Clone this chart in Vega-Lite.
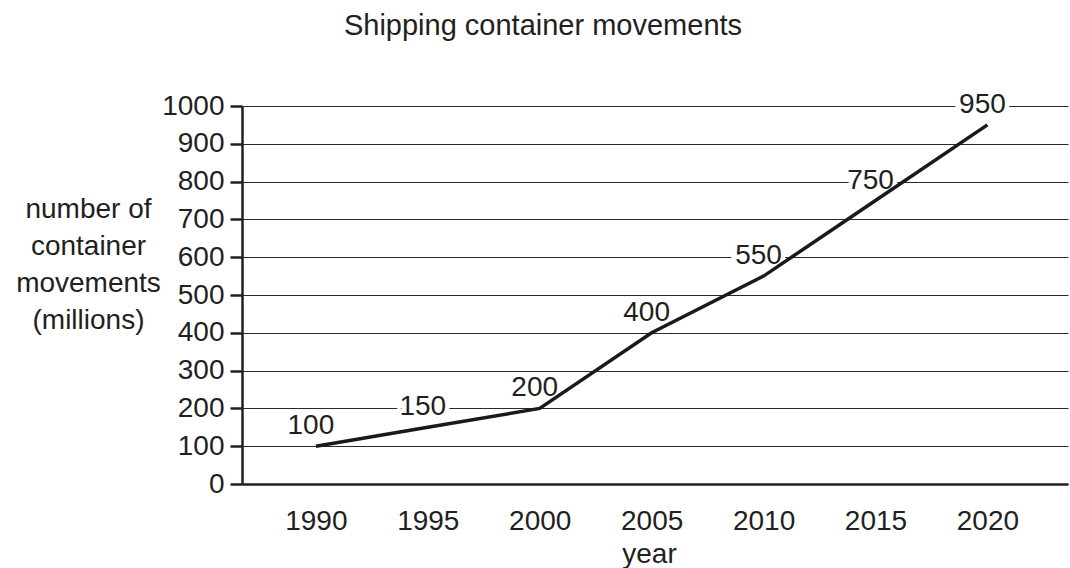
{
  "$schema": "https://vega.github.io/schema/vega-lite/v6.json",
  "width": 826,
  "height": 378,
  "autosize": {"type": "none"},
  "padding": {"left": 242, "top": 106, "right": 2, "bottom": 84},
  "background": "white",
  "title": {
    "text": "Shipping container movements",
    "anchor": "middle",
    "frame": "group",
    "dx": -112,
    "offset": 50,
    "fontSize": 29,
    "font": "Liberation Sans",
    "fontWeight": "normal",
    "color": "#231f20"
  },
  "config": {
    "view": {"stroke": null},
    "font": "Liberation Sans"
  },
  "data": {
    "values": [
      {"year": 1990, "movements": 100},
      {"year": 1995, "movements": 150},
      {"year": 2000, "movements": 200},
      {"year": 2005, "movements": 400},
      {"year": 2010, "movements": 550},
      {"year": 2015, "movements": 750},
      {"year": 2020, "movements": 950}
    ]
  },
  "encoding": {
    "x": {
      "field": "year",
      "type": "quantitative",
      "scale": {"domain": [1986.7, 2023.6], "nice": false, "zero": false},
      "axis": {
        "values": [1990, 1995, 2000, 2005, 2010, 2015, 2020],
        "format": "d",
        "grid": false,
        "domain": true,
        "domainColor": "#231f20",
        "domainWidth": 2.5,
        "ticks": false,
        "tickSize": 0,
        "labelPadding": 23,
        "labelFontSize": 28,
        "labelColor": "#231f20",
        "labelFont": "Liberation Sans",
        "title": "year",
        "titleFont": "Liberation Sans",
        "titleFontSize": 28,
        "titleFontWeight": "normal",
        "titleColor": "#231f20",
        "titleX": 407,
        "titleY": 78,
        "titleBaseline": "alphabetic"
      }
    },
    "y": {
      "field": "movements",
      "type": "quantitative",
      "scale": {"domain": [0, 1000], "nice": false},
      "axis": {
        "values": [0, 100, 200, 300, 400, 500, 600, 700, 800, 900, 1000],
        "format": "d",
        "grid": true,
        "gridColor": "#2a2a2a",
        "gridWidth": 1.2,
        "domain": true,
        "domainColor": "#231f20",
        "domainWidth": 2.5,
        "ticks": true,
        "tickSize": 12,
        "tickWidth": 2.5,
        "tickColor": "#231f20",
        "labelPadding": 6,
        "labelFontSize": 28,
        "labelColor": "#231f20",
        "labelFont": "Liberation Sans",
        "title": ["number of", "container", "movements", "(millions)"],
        "titleFont": "Liberation Sans",
        "titleFontSize": 28,
        "titleFontWeight": "normal",
        "titleColor": "#231f20",
        "titleAngle": 0,
        "titleAlign": "center",
        "titleBaseline": "middle",
        "titleLineHeight": 37,
        "titleX": -154,
        "titleY": 103
      }
    }
  },
  "layer": [
    {
      "mark": {
        "type": "text",
        "fontSize": 28,
        "font": "Liberation Sans",
        "dx": -5,
        "dy": -20,
        "align": "center",
        "baseline": "middle",
        "stroke": "white",
        "strokeWidth": 9,
        "fill": "white"
      },
      "encoding": {"text": {"field": "movements", "type": "quantitative"}}
    },
    {
      "mark": {"type": "line", "color": "#1a1a1a", "strokeWidth": 3.5, "strokeJoin": "miter"}
    },
    {
      "mark": {
        "type": "text",
        "fontSize": 28,
        "font": "Liberation Sans",
        "dx": -5,
        "dy": -20,
        "align": "center",
        "baseline": "middle",
        "color": "#231f20"
      },
      "encoding": {"text": {"field": "movements", "type": "quantitative"}}
    }
  ]
}
